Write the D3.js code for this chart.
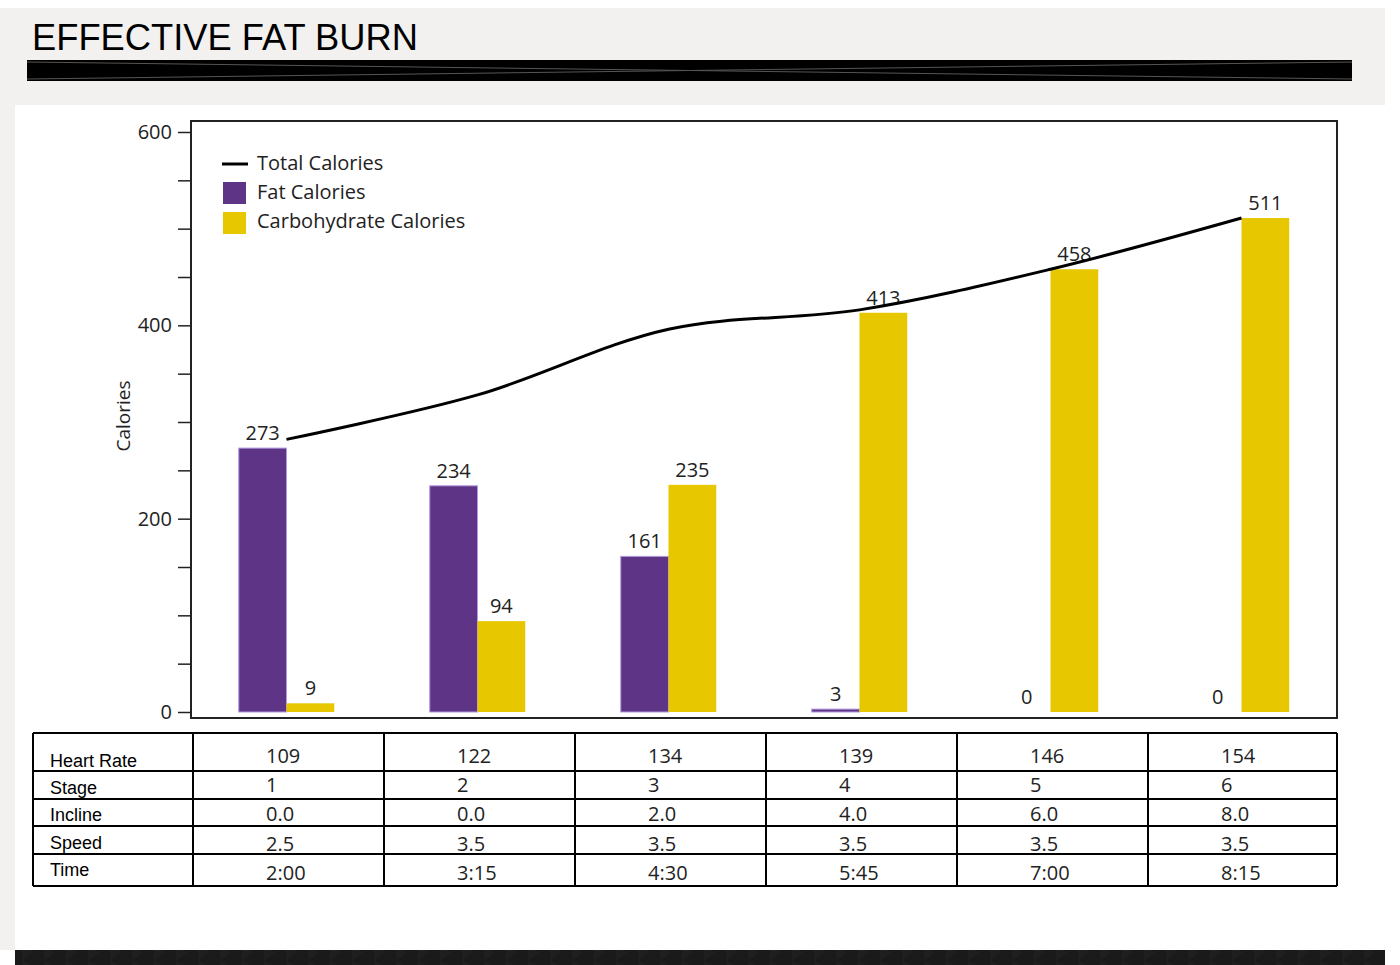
<!DOCTYPE html>
<html>
<head>
<meta charset="utf-8">
<script src="https://cdn.jsdelivr.net/npm/d3@7"></script>
<style>
  body { margin: 0; background: #fff; }
  svg { display: block; }
</style>
</head>
<body>
<div id="chart"></div>
<script>
// chart data
var heartRates = ["109", "122", "134", "139", "146", "154"];
var fatCalories = [273, 234, 161, 3, 0, 0];
var carbCalories = [9, 94, 235, 413, 458, 511];
var totalCalories = [282, 328, 396, 416, 458, 511];
var stages = ["1", "2", "3", "4", "5", "6"];
var inclines = ["0.0", "0.0", "2.0", "4.0", "6.0", "8.0"];
var speeds = ["2.5", "3.5", "3.5", "3.5", "3.5", "3.5"];
var times = ["2:00", "3:15", "4:30", "5:45", "7:00", "8:15"];
var yTickLabels = [0, 200, 400, 600];
var rowNames = ["Heart Rate", "Stage", "Incline", "Speed", "Time"];

var purple = "#5e3586", yellow = "#e6c700";
var chartFont = "'Open Sans', 'Noto Sans', sans-serif";
var plainFont = "'Liberation Sans', Arial, sans-serif";

var svg = d3.select("#chart").append("svg").attr("width", 1400).attr("height", 965);

// page backgrounds
svg.append("rect").attr("x", 0).attr("y", 8).attr("width", 1385).attr("height", 97).attr("fill", "#f2f1f0");
svg.append("rect").attr("x", 0).attr("y", 105).attr("width", 15).attr("height", 845).attr("fill", "#f2f1f0");

// header
svg.append("text").attr("x", 32).attr("y", 50).text("EFFECTIVE FAT BURN")
  .style("font-family", plainFont).style("font-size", "37px")
  .attr("textLength", 386).attr("lengthAdjust", "spacingAndGlyphs").attr("fill", "#000");
svg.append("rect").attr("x", 27).attr("y", 60).attr("width", 1325).attr("height", 21).attr("fill", "#000");
svg.append("line").attr("x1", 27).attr("y1", 62).attr("x2", 1352).attr("y2", 79).attr("stroke", "#555").attr("stroke-width", 1);
svg.append("line").attr("x1", 27).attr("y1", 79).attr("x2", 1352).attr("y2", 62).attr("stroke", "#555").attr("stroke-width", 1);

// footer bar with faint triangles
var defs = svg.append("defs");
var pat = defs.append("pattern").attr("id", "tri").attr("width", 22).attr("height", 15).attr("patternUnits", "userSpaceOnUse");
pat.append("rect").attr("width", 22).attr("height", 15).attr("fill", "#1a1a1a");
pat.append("path").attr("d", "M0,0 L11,7.5 L0,15 Z").attr("fill", "#1f1f1f");
svg.append("rect").attr("x", 15).attr("y", 950).attr("width", 1370).attr("height", 15).attr("fill", "url(#tri)");

// scales
var x = d3.scaleBand().domain(heartRates).range([191, 1337]).paddingInner(0.5).paddingOuter(0.25);
var xSub = d3.scaleBand().domain(["fat", "carb"]).range([0, x.bandwidth()]);
var y = d3.scaleLinear().domain([0, 600]).range([712, 132]);
var step = x.step();

// y axis
var yAxis = svg.append("g").attr("transform", "translate(191,0)")
  .call(d3.axisLeft(y).tickValues(d3.range(0, 601, 50)).tickSize(13)
    .tickFormat(function(d) { return yTickLabels.indexOf(d) >= 0 ? d : ""; }));
yAxis.select(".domain").remove();
yAxis.selectAll("line").attr("stroke", "#222").attr("stroke-width", 1.5);
yAxis.selectAll("text").style("font-family", chartFont).style("font-size", "20px")
  .attr("fill", "#222").attr("x", -19);

svg.append("text").attr("transform", "translate(130,416) rotate(-90)")
  .attr("text-anchor", "middle").text("Calories")
  .style("font-family", chartFont).style("font-size", "19px").attr("fill", "#222");

// bars
var groups = svg.append("g").selectAll("g").data(heartRates).join("g")
  .attr("transform", function(d) { return "translate(" + x(d) + ",0)"; });

groups.append("rect")
  .attr("x", xSub("fat")).attr("width", xSub.bandwidth())
  .attr("y", function(d, i) { return y(fatCalories[i]); })
  .attr("height", function(d, i) { return y(0) - y(fatCalories[i]); })
  .attr("fill", purple).attr("stroke", "#b39be0").attr("stroke-width", function(d, i) { return fatCalories[i] > 0 ? 1 : 0; });

groups.append("rect")
  .attr("x", xSub("carb")).attr("width", xSub.bandwidth())
  .attr("y", function(d, i) { return y(carbCalories[i]); })
  .attr("height", function(d, i) { return y(0) - y(carbCalories[i]); })
  .attr("fill", yellow);

groups.append("text")
  .attr("x", xSub("fat") + xSub.bandwidth() / 2)
  .attr("y", function(d, i) { return y(fatCalories[i]) - 8; })
  .attr("text-anchor", "middle").text(function(d, i) { return fatCalories[i]; })
  .style("font-family", chartFont).style("font-size", "20px").attr("fill", "#222");

groups.append("text")
  .attr("x", xSub("carb") + xSub.bandwidth() / 2)
  .attr("y", function(d, i) { return y(carbCalories[i]) - 8; })
  .attr("text-anchor", "middle").text(function(d, i) { return carbCalories[i]; })
  .style("font-family", chartFont).style("font-size", "20px").attr("fill", "#222");

// total line
var line = d3.line()
  .x(function(d, i) { return x(heartRates[i]) + x.bandwidth() / 2; })
  .y(function(d) { return y(d); })
  .curve(d3.curveCatmullRom.alpha(0.5));
svg.append("path").datum(totalCalories).attr("d", line)
  .attr("fill", "none").attr("stroke", "#000").attr("stroke-width", 3);

// frame
svg.append("rect").attr("x", 191).attr("y", 121).attr("width", 1146).attr("height", 597)
  .attr("fill", "none").attr("stroke", "#222").attr("stroke-width", 2);

// legend
var legend = svg.append("g");
legend.append("line").attr("x1", 222).attr("x2", 248).attr("y1", 164).attr("y2", 164).attr("stroke", "#000").attr("stroke-width", 3);
legend.append("rect").attr("x", 223).attr("y", 182).attr("width", 23).attr("height", 22).attr("fill", purple);
legend.append("rect").attr("x", 223).attr("y", 212).attr("width", 23).attr("height", 22).attr("fill", yellow);
legend.selectAll("text").data(["Total Calories", "Fat Calories", "Carbohydrate Calories"]).join("text")
  .attr("x", 257).attr("y", function(d, i) { return 165 + i * 29; })
  .attr("dominant-baseline", "middle").text(function(d) { return d; })
  .style("font-family", chartFont).style("font-size", "20px").attr("fill", "#222");

// table below chart
var rowEdges = [733, 771, 799, 826, 854, 886];
var rowValues = [heartRates, stages, inclines, speeds, times];
var table = svg.append("g");
var colLeft = function(d) { return x(d) - (step - x.bandwidth()) / 2 + 2; };
var colEdges = [33].concat(heartRates.map(colLeft)).concat([1337]);

table.selectAll("line.h").data(rowEdges).join("line").attr("class", "h")
  .attr("x1", 33).attr("x2", 1337).attr("y1", function(d) { return d; }).attr("y2", function(d) { return d; })
  .attr("stroke", "#000").attr("stroke-width", 2);
table.selectAll("line.v").data(colEdges).join("line").attr("class", "v")
  .attr("x1", function(d) { return d; }).attr("x2", function(d) { return d; })
  .attr("y1", 733).attr("y2", 886).attr("stroke", "#000").attr("stroke-width", 2);

var labelBase = [767, 794, 821, 849, 876];
var valueBase = [763, 792, 821, 851, 880];
table.selectAll("text.name").data(rowNames).join("text").attr("class", "name")
  .attr("x", 50).attr("y", function(d, i) { return labelBase[i]; }).text(function(d) { return d; })
  .style("font-family", plainFont).style("font-size", "18px").attr("fill", "#000");

rowValues.forEach(function(vals, r) {
  table.selectAll("text.r" + r).data(vals).join("text").attr("class", "r" + r)
    .attr("x", function(d, i) { return colLeft(heartRates[i]) + 73; })
    .attr("y", valueBase[r]).text(function(d) { return d; })
    .style("font-family", chartFont).style("font-size", "20px").attr("fill", "#222");
});
</script>
</body>
</html>
